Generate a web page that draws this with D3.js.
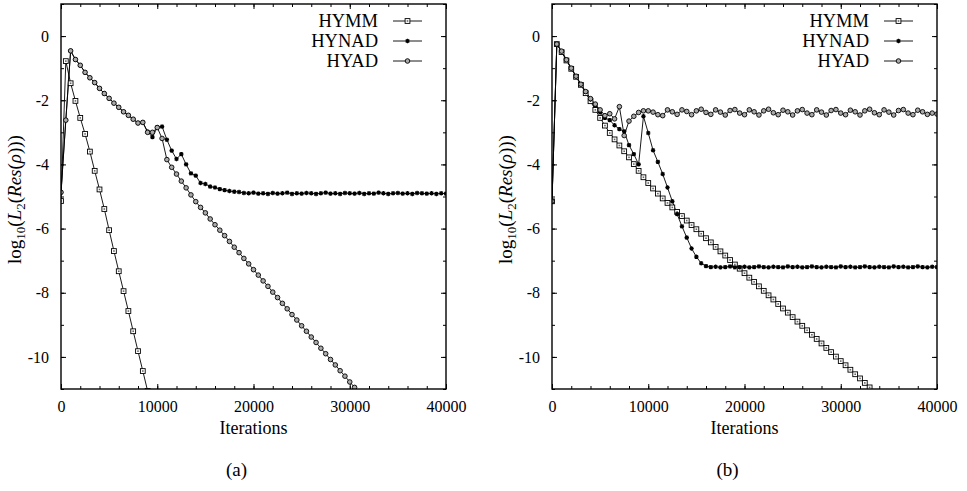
<!DOCTYPE html>
<html><head><meta charset="utf-8">
<script src="https://cdn.jsdelivr.net/npm/d3@7"></script>
<style>
body{margin:0;background:#fff}
svg{display:block}
svg text{font-family:"Liberation Serif","DejaVu Serif",serif !important;fill:#000}
</style>
</head><body>
<svg id="c" width="967" height="491"></svg>
<script>
// ---------- data ----------
const ITER = [0,500,1000,1500,2000,2500,3000,3500,4000,4500,5000,5500,6000,6500,7000,7500,8000,8500,9000,9500,
  10000,10500,11000,11500,12000,12500,13000,13500,14000,14500,15000,15500,16000,16500,17000,17500,18000,18500,19000,19500,
  20000,20500,21000,21500,22000,22500,23000,23500,24000,24500,25000,25500,26000,26500,27000,27500,28000,28500,29000,29500,
  30000,30500,31000,31500,32000,32500,33000,33500,34000,34500,35000,35500,36000,36500,37000,37500,38000,38500,39000,39500,40000];

const seriesNames = ["HYMM","HYNAD","HYAD"];
const xTicks = [0,10000,20000,30000,40000];
const xTickLabels = ["0","10000","20000","30000","40000"];
const yTicks = [-10,-8,-6,-4,-2,0];
const yTickLabels = ["-10","-8","-6","-4","-2","0"];
const panelCaptions = ["(a)","(b)"];
const xTitle = "Iterations";

// panel (a)
const a_HYMM = [-5.14,-0.78,-1.47,-2.02,-2.55,-3.05,-3.6,-4.2,-4.78,-5.39,-6.05,-6.7,-7.33,-7.95,-8.57,-9.2,-9.82,-10.44,-11.06];
const a_HYNAD = [-4.87,-2.62,-0.46,-0.73,-0.91,-1.13,-1.30,-1.45,-1.63,-1.79,-1.94,-2.09,-2.22,-2.36,-2.47,-2.59,-2.71,-2.69,-2.98,-3.15,
  -2.84,-2.82,-3.23,-3.57,-3.83,-3.68,-4.00,-4.28,-4.35,-4.58,-4.61,-4.69,-4.72,-4.77,-4.80,-4.83,-4.85,-4.86,-4.89,-4.90,
  -4.88,-4.91,-4.90,-4.92,-4.89,-4.91,-4.90,-4.88,-4.92,-4.90,-4.91,-4.89,-4.90,-4.92,-4.90,-4.88,-4.91,-4.90,-4.92,-4.89,
  -4.90,-4.91,-4.89,-4.92,-4.90,-4.91,-4.88,-4.90,-4.92,-4.90,-4.89,-4.91,-4.90,-4.92,-4.89,-4.90,-4.91,-4.90,-4.92,-4.90,-4.91];
const a_HYAD = [-4.87,-2.62,-0.46,-0.73,-0.91,-1.13,-1.30,-1.45,-1.63,-1.79,-1.94,-2.09,-2.22,-2.36,-2.47,-2.59,-2.71,-2.69,-3.00,-3.00,
  -2.85,-3.19,-3.85,-4.09,-4.30,-4.52,-4.73,-4.95,-5.16,-5.34,-5.51,-5.70,-5.88,-6.05,-6.22,-6.40,-6.58,-6.75,-6.93,-7.10,
  -7.28,-7.45,-7.63,-7.80,-7.98,-8.15,-8.33,-8.50,-8.68,-8.85,-9.03,-9.20,-9.38,-9.55,-9.73,-9.90,-10.08,-10.25,-10.43,-10.60,
  -10.78,-10.95];

// panel (b)
const b_HYMM = [-5.15,-0.25,-0.50,-0.76,-1.02,-1.27,-1.52,-1.78,-2.03,-2.30,-2.55,-2.79,-3.02,-3.22,-3.41,-3.59,-3.78,-3.99,-4.20,-4.40,
  -4.58,-4.75,-4.91,-5.06,-5.20,-5.34,-5.48,-5.61,-5.75,-5.89,-6.02,-6.16,-6.30,-6.43,-6.57,-6.71,-6.84,-6.98,-7.12,-7.25,
  -7.39,-7.53,-7.66,-7.80,-7.94,-8.08,-8.21,-8.35,-8.49,-8.62,-8.76,-8.90,-9.03,-9.17,-9.31,-9.44,-9.58,-9.72,-9.85,-9.99,
  -10.13,-10.26,-10.40,-10.54,-10.67,-10.81,-10.95];
const b_HYNAD = [-5.15,-0.25,-0.47,-0.74,-1.00,-1.25,-1.50,-1.74,-1.96,-2.17,-2.38,-2.55,-2.62,-2.78,-2.90,-2.97,-3.40,-3.68,-4.00,-2.50,
  -3.02,-3.56,-3.92,-4.30,-4.72,-5.15,-5.55,-5.93,-6.28,-6.62,-6.88,-7.08,-7.17,-7.20,-7.19,-7.21,-7.20,-7.18,-7.21,-7.20,
  -7.19,-7.21,-7.20,-7.18,-7.20,-7.21,-7.19,-7.20,-7.21,-7.18,-7.20,-7.19,-7.21,-7.20,-7.18,-7.20,-7.21,-7.19,-7.20,-7.21,
  -7.18,-7.20,-7.19,-7.21,-7.20,-7.18,-7.20,-7.21,-7.19,-7.20,-7.21,-7.18,-7.20,-7.19,-7.21,-7.20,-7.18,-7.20,-7.21,-7.19,-7.20];
const b_HYAD = [-5.15,-0.25,-0.47,-0.74,-1.00,-1.25,-1.50,-1.73,-1.95,-2.12,-2.30,-2.48,-2.42,-2.58,-2.20,-3.10,-2.65,-2.50,-2.38,-2.33,
  -2.33,-2.37,-2.45,-2.48,-2.30,-2.36,-2.44,-2.30,-2.35,-2.45,-2.33,-2.28,-2.38,-2.44,-2.30,-2.37,-2.46,-2.32,-2.29,-2.40,
  -2.45,-2.30,-2.36,-2.46,-2.33,-2.28,-2.39,-2.45,-2.31,-2.36,-2.46,-2.33,-2.29,-2.40,-2.45,-2.30,-2.37,-2.46,-2.32,-2.29,
  -2.40,-2.45,-2.31,-2.36,-2.46,-2.33,-2.28,-2.39,-2.45,-2.30,-2.37,-2.46,-2.32,-2.29,-2.40,-2.45,-2.31,-2.36,-2.44,-2.40,-2.43];

// ---------- drawing ----------
const FONT = "'Liberation Serif', 'DejaVu Serif', serif";
const svg = d3.select("#c");
const PW = 385, TOP = 4, BOT = 389;

function marker(sel, type, cx, cy) {
  if (type === 0) {
    sel.append("rect").attr("x", cx-2.4).attr("y", cy-2.4).attr("width", 4.8).attr("height", 4.8)
      .attr("fill", "#fff").attr("stroke", "#000").attr("stroke-width", 0.9);
    sel.append("rect").attr("x", cx-0.8).attr("y", cy-0.8).attr("width", 1.6).attr("height", 1.6).attr("fill", "#666");
  } else if (type === 1) {
    const r = 2.2;
    sel.append("path").attr("d",
      `M${cx-r},${cy}L${cx+r},${cy}M${cx},${cy-r}L${cx},${cy+r}M${cx-r*0.75},${cy-r*0.75}L${cx+r*0.75},${cy+r*0.75}M${cx-r*0.75},${cy+r*0.75}L${cx+r*0.75},${cy-r*0.75}`)
      .attr("stroke", "#000").attr("stroke-width", 1.2).attr("fill", "none");
  } else {
    sel.append("circle").attr("cx", cx).attr("cy", cy).attr("r", 2.3)
      .attr("fill", "#aaa").attr("stroke", "#000").attr("stroke-width", 0.9);
  }
}

function panel(idx, x0, series) {
  const x = d3.scaleLinear().domain([0, 40000]).range([x0, x0 + PW]);
  const y = d3.scaleLinear().domain([-11, 1]).range([BOT, TOP]);
  const g = svg.append("g");

  svg.append("clipPath").attr("id", "clip" + idx).append("rect")
    .attr("x", x0).attr("y", TOP).attr("width", PW).attr("height", BOT - TOP);

  const styleAxis = a => {
    a.attr("font-family", FONT);
    a.select(".domain").remove();
    a.selectAll("line").attr("stroke", "#000").attr("stroke-width", 1);
  };
  const xb = g.append("g").attr("transform", `translate(0,${BOT})`)
    .call(d3.axisBottom(x).tickValues(xTicks).tickFormat((d, i) => xTickLabels[i]).tickSize(-5).tickPadding(12));
  styleAxis(xb);
  xb.selectAll("text").attr("font-size", 16);
  styleAxis(g.append("g").attr("transform", `translate(0,${BOT})`).call(d3.axisBottom(x).ticks(20).tickFormat("").tickSize(-3)));
  styleAxis(g.append("g").attr("transform", `translate(0,${TOP})`).call(d3.axisTop(x).tickValues(xTicks).tickFormat("").tickSize(-5)));
  styleAxis(g.append("g").attr("transform", `translate(0,${TOP})`).call(d3.axisTop(x).ticks(20).tickFormat("").tickSize(-3)));
  const yl = g.append("g").attr("transform", `translate(${x0},0)`)
    .call(d3.axisLeft(y).tickValues(yTicks).tickFormat((d, i) => yTickLabels[i]).tickSize(-5).tickPadding(12));
  styleAxis(yl);
  yl.selectAll("text").attr("font-size", 16);
  styleAxis(g.append("g").attr("transform", `translate(${x0},0)`).call(d3.axisLeft(y).ticks(12).tickFormat("").tickSize(-3)));
  styleAxis(g.append("g").attr("transform", `translate(${x0 + PW},0)`).call(d3.axisRight(y).tickValues(yTicks).tickFormat("").tickSize(-5)));
  styleAxis(g.append("g").attr("transform", `translate(${x0 + PW},0)`).call(d3.axisRight(y).ticks(12).tickFormat("").tickSize(-3)));

  const plot = g.append("g").attr("clip-path", `url(#clip${idx})`);
  const line = d3.line().x((d, i) => x(ITER[i])).y(d => y(d));
  series.forEach(vals => {
    plot.append("path").attr("d", line(vals)).attr("fill", "none").attr("stroke", "#000").attr("stroke-width", 0.9);
  });
  series.forEach((vals, s) => {
    const mg = plot.append("g");
    vals.forEach((v, i) => marker(mg, s, x(ITER[i]), y(v)));
  });

  g.append("rect").attr("x", x0).attr("y", TOP).attr("width", PW).attr("height", BOT - TOP)
    .attr("fill", "none").attr("stroke", "#000").attr("stroke-width", 1.4);

  const lx = x0 + 317;
  seriesNames.forEach((name, s) => {
    const ly = 21 + s * 20;
    g.append("text").attr("x", lx).attr("y", ly + 5.5).attr("text-anchor", "end")
      .attr("font-family", FONT).attr("font-size", 18.5).text(name);
    g.append("line").attr("x1", lx + 15).attr("x2", lx + 44).attr("y1", ly).attr("y2", ly)
      .attr("stroke", "#000").attr("stroke-width", 0.9);
    marker(g, s, lx + 29.5, ly);
  });

  g.append("text").attr("x", x0 + PW / 2).attr("y", 434).attr("text-anchor", "middle")
    .attr("font-family", FONT).attr("font-size", 18).text(xTitle);

  const yt = g.append("text").attr("transform", `translate(${x0 - 40},${(TOP + BOT) / 2 + 3}) rotate(-90)`)
    .attr("text-anchor", "middle").attr("font-family", FONT).attr("font-size", 19);
  yt.append("tspan").text("log");
  yt.append("tspan").attr("dy", 4).attr("font-size", 13).text("10");
  yt.append("tspan").attr("dy", -4).text("(");
  yt.append("tspan").attr("font-style", "italic").text("L");
  yt.append("tspan").attr("dy", 4).attr("font-size", 13).text("2");
  yt.append("tspan").attr("dy", -4).text("(");
  yt.append("tspan").attr("font-style", "italic").text("Res");
  yt.append("tspan").text("(");
  yt.append("tspan").attr("font-style", "italic").text("ρ");
  yt.append("tspan").text(")))");

  g.append("text").attr("x", x0 + PW / 2 - 17).attr("y", 476).attr("text-anchor", "middle")
    .attr("font-family", FONT).attr("font-size", 19).text(panelCaptions[idx]);
}

panel(0, 61, [a_HYMM, a_HYNAD, a_HYAD]);
panel(1, 552, [b_HYMM, b_HYNAD, b_HYAD]);
</script>
</body></html>
